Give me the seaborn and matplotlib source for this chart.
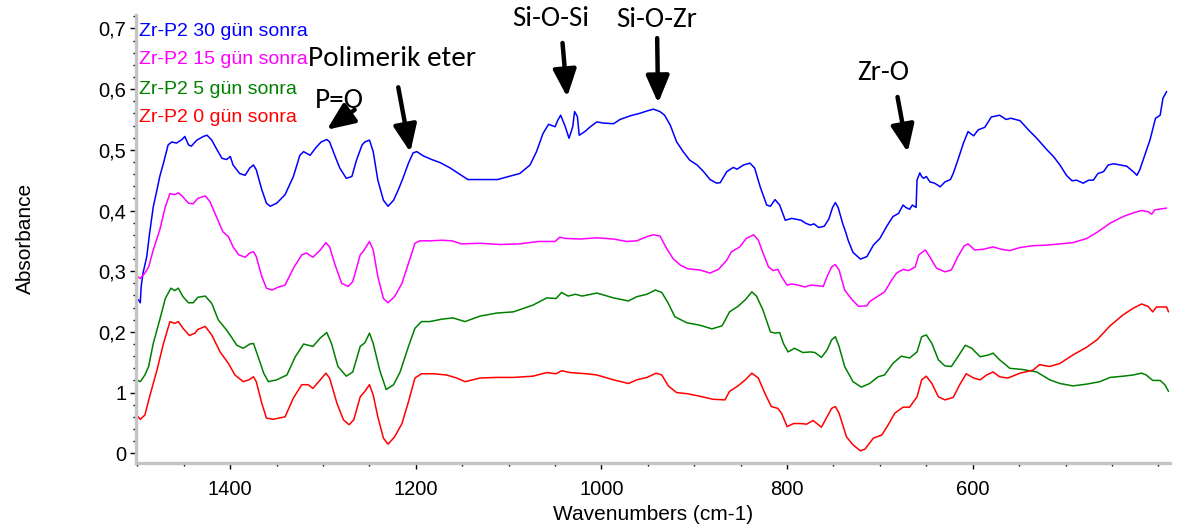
import matplotlib
matplotlib.use("Agg")
import matplotlib.pyplot as plt
from matplotlib import font_manager
from matplotlib.ticker import MultipleLocator, FixedLocator, FixedFormatter
import seaborn as sns
import pandas as pd

# ---------------- data ----------------
series_names = ["Zr-P2 30 gün sonra", "Zr-P2 15 gün sonra", "Zr-P2 5 gün sonra", "Zr-P2 0 gün sonra"]
series_colors = ["#0000ff", "#ff00ff", "#008000", "#ff0000"]

wn_30 = [1499, 1497, 1496, 1494, 1490, 1487, 1483, 1479, 1476, 1472, 1467, 1463, 1458, 1452, 1449, 1445, 1442,
         1436, 1429, 1425, 1420, 1415, 1409, 1404, 1400, 1397, 1390, 1384, 1379, 1375, 1372, 1366, 1361, 1357,
         1350, 1341, 1332, 1325, 1321, 1314, 1307, 1302, 1296, 1293, 1287, 1282, 1275, 1269, 1264, 1258, 1255,
         1250, 1246, 1241, 1235, 1230, 1224, 1219, 1214, 1208, 1203, 1199, 1192, 1183, 1174, 1163, 1153, 1144,
         1127, 1112, 1100, 1088, 1077, 1070, 1063, 1057, 1050, 1047, 1044, 1039, 1035, 1031, 1029, 1026, 1024,
         1018, 1012, 1005, 998, 987, 980, 969, 959, 951, 944, 937, 932, 926, 919, 912, 905, 897, 890, 883, 876,
         872, 865, 858, 854, 847, 840, 835, 829, 822, 818, 813, 808, 802, 795, 785, 780, 775, 771, 766, 760, 755,
         751, 748, 745, 740, 737, 734, 729, 721, 714, 707, 700, 693, 686, 680, 675, 672, 668, 665, 661, 660, 657,
         655, 653, 650, 646, 641, 635, 630, 624, 621, 616, 610, 605, 599, 594, 587, 580, 571, 564, 559, 549, 540,
         531, 520, 513, 506, 499, 493, 488, 481, 475, 470, 465, 459, 454, 448, 441, 434, 427, 423, 420, 414, 409,
         403, 398, 395, 391]
abs_30 = [0.253, 0.248, 0.275, 0.297, 0.324, 0.362, 0.406, 0.434, 0.456, 0.478, 0.508, 0.513, 0.511, 0.517, 0.522,
          0.508, 0.506, 0.516, 0.522, 0.524, 0.516, 0.502, 0.486, 0.484, 0.489, 0.475, 0.461, 0.458, 0.470, 0.475,
          0.467, 0.434, 0.412, 0.407, 0.412, 0.426, 0.456, 0.491, 0.497, 0.491, 0.505, 0.513, 0.517, 0.513, 0.489,
          0.470, 0.453, 0.456, 0.483, 0.508, 0.513, 0.516, 0.497, 0.450, 0.417, 0.407, 0.417, 0.434, 0.453, 0.478,
          0.495, 0.497, 0.490, 0.484, 0.479, 0.470, 0.460, 0.451, 0.451, 0.451, 0.456, 0.461, 0.475, 0.497, 0.527,
          0.542, 0.538, 0.549, 0.557, 0.538, 0.519, 0.538, 0.563, 0.555, 0.524, 0.530, 0.538, 0.546, 0.544, 0.543,
          0.550, 0.556, 0.560, 0.564, 0.567, 0.563, 0.557, 0.541, 0.513, 0.497, 0.483, 0.475, 0.464, 0.451, 0.445,
          0.446, 0.464, 0.471, 0.468, 0.475, 0.478, 0.470, 0.439, 0.409, 0.407, 0.418, 0.409, 0.384, 0.387, 0.384,
          0.379, 0.376, 0.378, 0.372, 0.374, 0.386, 0.405, 0.413, 0.405, 0.378, 0.365, 0.350, 0.331, 0.320, 0.324,
          0.343, 0.354, 0.373, 0.390, 0.395, 0.409, 0.405, 0.402, 0.409, 0.405, 0.450, 0.462, 0.456, 0.453, 0.456,
          0.447, 0.445, 0.439, 0.447, 0.451, 0.461, 0.483, 0.511, 0.530, 0.523, 0.533, 0.537, 0.554, 0.557, 0.550,
          0.552, 0.548, 0.533, 0.519, 0.500, 0.489, 0.475, 0.458, 0.449, 0.450, 0.445, 0.450, 0.450, 0.461, 0.464,
          0.475, 0.477, 0.475, 0.473, 0.464, 0.458, 0.467, 0.494, 0.516, 0.552, 0.557, 0.585, 0.596]

wn_15 = [1500, 1497, 1492, 1488, 1483, 1476, 1470, 1465, 1460, 1456, 1452, 1445, 1440, 1435, 1427, 1422, 1415,
         1408, 1402, 1397, 1391, 1384, 1379, 1375, 1372, 1366, 1361, 1355, 1348, 1341, 1332, 1323, 1318, 1311,
         1303, 1297, 1293, 1287, 1280, 1273, 1268, 1260, 1257, 1250, 1246, 1241, 1235, 1230, 1223, 1215, 1208,
         1201, 1196, 1185, 1172, 1161, 1151, 1131, 1109, 1088, 1068, 1050, 1045, 1039, 1023, 1005, 987, 973, 962,
         951, 944, 937, 930, 923, 915, 907, 894, 883, 874, 865, 860, 851, 844, 836, 831, 826, 820, 815, 810, 806,
         800, 795, 788, 781, 774, 766, 761, 757, 752, 748, 744, 738, 730, 723, 714, 711, 702, 695, 687, 682, 675,
         669, 662, 658, 651, 646, 639, 630, 623, 616, 609, 605, 598, 589, 578, 569, 560, 549, 535, 520, 506, 492,
         477, 466, 452, 438, 427, 418, 411, 407, 404, 391]
abs_15 = [0.291, 0.288, 0.297, 0.307, 0.335, 0.368, 0.406, 0.428, 0.426, 0.429, 0.424, 0.412, 0.411, 0.420, 0.424,
          0.415, 0.390, 0.365, 0.357, 0.340, 0.327, 0.323, 0.330, 0.332, 0.324, 0.291, 0.272, 0.269, 0.274, 0.277,
          0.305, 0.327, 0.330, 0.323, 0.335, 0.347, 0.340, 0.310, 0.280, 0.275, 0.283, 0.327, 0.332, 0.349, 0.335,
          0.291, 0.255, 0.248, 0.258, 0.280, 0.313, 0.346, 0.350, 0.350, 0.351, 0.350, 0.345, 0.346, 0.344, 0.345,
          0.349, 0.349, 0.356, 0.354, 0.353, 0.355, 0.353, 0.349, 0.350, 0.357, 0.360, 0.358, 0.338, 0.321, 0.310,
          0.304, 0.302, 0.297, 0.303, 0.318, 0.332, 0.340, 0.354, 0.360, 0.351, 0.330, 0.307, 0.301, 0.303, 0.291,
          0.277, 0.279, 0.277, 0.274, 0.277, 0.276, 0.275, 0.291, 0.307, 0.311, 0.302, 0.269, 0.253, 0.242, 0.243,
          0.250, 0.259, 0.266, 0.286, 0.297, 0.303, 0.301, 0.307, 0.327, 0.335, 0.323, 0.305, 0.299, 0.302, 0.324,
          0.342, 0.345, 0.335, 0.336, 0.340, 0.336, 0.334, 0.339, 0.342, 0.343, 0.345, 0.347, 0.354, 0.364, 0.379,
          0.390, 0.396, 0.400, 0.398, 0.394, 0.401, 0.404]

wn_5 = [1501, 1497, 1492, 1488, 1483, 1476, 1470, 1464, 1460, 1456, 1451, 1445, 1440, 1435, 1427, 1420, 1413,
        1404, 1399, 1393, 1386, 1379, 1375, 1370, 1364, 1359, 1350, 1339, 1330, 1321, 1311, 1303, 1296, 1291,
        1284, 1275, 1268, 1260, 1255, 1250, 1246, 1239, 1232, 1224, 1217, 1208, 1201, 1194, 1185, 1172, 1160,
        1147, 1131, 1113, 1095, 1074, 1059, 1049, 1043, 1036, 1028, 1021, 1005, 987, 971, 962, 951, 942, 935,
        928, 921, 908, 894, 881, 870, 862, 853, 845, 838, 833, 826, 818, 813, 808, 804, 799, 792, 783, 775, 770,
        763, 757, 752, 748, 744, 738, 729, 720, 711, 702, 695, 686, 677, 668, 660, 655, 650, 644, 637, 630, 623,
        616, 608, 601, 592, 583, 578, 571, 560, 546, 531, 517, 506, 492, 477, 463, 452, 438, 427, 418, 413, 406,
        398, 393, 389]
abs_5 = [0.121, 0.118, 0.129, 0.143, 0.181, 0.220, 0.255, 0.272, 0.268, 0.272, 0.258, 0.248, 0.248, 0.257, 0.259,
         0.247, 0.220, 0.203, 0.192, 0.178, 0.173, 0.180, 0.181, 0.159, 0.132, 0.118, 0.121, 0.129, 0.159, 0.180,
         0.176, 0.190, 0.199, 0.181, 0.143, 0.127, 0.134, 0.176, 0.182, 0.198, 0.181, 0.137, 0.105, 0.113, 0.134,
         0.176, 0.206, 0.217, 0.217, 0.221, 0.223, 0.217, 0.226, 0.231, 0.233, 0.244, 0.256, 0.255, 0.265, 0.259,
         0.262, 0.259, 0.264, 0.256, 0.251, 0.258, 0.262, 0.269, 0.265, 0.247, 0.225, 0.215, 0.211, 0.205, 0.210,
         0.233, 0.242, 0.253, 0.266, 0.259, 0.236, 0.200, 0.198, 0.199, 0.181, 0.167, 0.173, 0.166, 0.167, 0.166,
         0.158, 0.170, 0.187, 0.192, 0.176, 0.143, 0.118, 0.109, 0.115, 0.126, 0.129, 0.148, 0.160, 0.157, 0.167,
         0.192, 0.195, 0.181, 0.154, 0.144, 0.143, 0.159, 0.178, 0.173, 0.159, 0.162, 0.165, 0.154, 0.140, 0.138,
         0.134, 0.121, 0.115, 0.111, 0.114, 0.118, 0.125, 0.127, 0.129, 0.132, 0.129, 0.120, 0.120, 0.113, 0.102]

wn_0 = [1501, 1497, 1492, 1487, 1479, 1472, 1465, 1460, 1456, 1451, 1444, 1438, 1435, 1427, 1420, 1411, 1402,
        1395, 1386, 1380, 1375, 1372, 1366, 1361, 1354, 1341, 1332, 1323, 1316, 1311, 1303, 1297, 1293, 1285,
        1278, 1272, 1267, 1260, 1255, 1250, 1246, 1241, 1235, 1230, 1223, 1215, 1208, 1201, 1194, 1181, 1167,
        1156, 1147, 1131, 1113, 1095, 1074, 1059, 1049, 1043, 1034, 1016, 1005, 987, 971, 962, 951, 941, 935,
        928, 919, 907, 894, 880, 867, 862, 853, 845, 838, 831, 824, 817, 810, 806, 800, 793, 786, 779, 772, 763,
        757, 752, 748, 744, 736, 729, 721, 716, 707, 698, 691, 684, 675, 668, 660, 655, 650, 644, 637, 630, 621,
        614, 607, 599, 592, 585, 578, 571, 562, 549, 535, 528, 517, 506, 492, 477, 466, 452, 438, 427, 418, 411,
        406, 402, 391, 389]
abs_0 = [0.063, 0.056, 0.063, 0.093, 0.137, 0.181, 0.217, 0.214, 0.217, 0.206, 0.194, 0.198, 0.204, 0.209, 0.195,
         0.167, 0.148, 0.129, 0.118, 0.121, 0.126, 0.118, 0.082, 0.058, 0.056, 0.060, 0.091, 0.113, 0.113, 0.107,
         0.121, 0.132, 0.124, 0.082, 0.055, 0.047, 0.055, 0.093, 0.102, 0.113, 0.096, 0.060, 0.025, 0.015, 0.027,
         0.049, 0.085, 0.124, 0.131, 0.131, 0.129, 0.124, 0.118, 0.124, 0.125, 0.125, 0.127, 0.133, 0.131, 0.136,
         0.133, 0.131, 0.129, 0.121, 0.115, 0.121, 0.125, 0.132, 0.129, 0.111, 0.100, 0.098, 0.094, 0.089, 0.088,
         0.102, 0.111, 0.121, 0.132, 0.124, 0.099, 0.077, 0.074, 0.066, 0.044, 0.049, 0.049, 0.048, 0.054, 0.043,
         0.060, 0.074, 0.077, 0.066, 0.027, 0.014, 0.004, 0.007, 0.025, 0.030, 0.047, 0.066, 0.076, 0.076, 0.093,
         0.121, 0.127, 0.115, 0.093, 0.088, 0.092, 0.113, 0.131, 0.124, 0.121, 0.129, 0.134, 0.126, 0.124, 0.132,
         0.137, 0.146, 0.143, 0.148, 0.162, 0.175, 0.187, 0.210, 0.228, 0.239, 0.246, 0.242, 0.233, 0.241, 0.241,
         0.233]

x_ticks = [1400, 1200, 1000, 800, 600]
x_tick_labels = ["1400", "1200", "1000", "800", "600"]
y_ticks = [0.0, 0.1, 0.2, 0.3, 0.4, 0.5, 0.6, 0.7]
y_tick_labels = ["0", "1", "0,2", "0,3", "0,4", "0,5", "0,6", "0,7"]

ann_labels = ["P=O", "Polimerik eter", "Si-O-Si", "Si-O-Zr", "Zr-O"]
ann_text_pos = [(1282, 0.582), (1226, 0.651), (1055, 0.717), (941, 0.714), (696, 0.627)]
ann_tail = [(1266, 0.566), (1219, 0.603), (1042, 0.676), (940, 0.684), (681, 0.587)]
ann_head = [(1296, 0.533), (1206, 0.496), (1037, 0.587), (939, 0.577), (670, 0.496)]

# ---------------- fonts ----------------
installed = {f.name for f in font_manager.fontManager.ttflist}
if "Liberation Sans Narrow" in installed:
    narrow, tick_fs, leg_fs, lab_fs = "Liberation Sans Narrow", 16, 15.5, 16
else:
    narrow, tick_fs, leg_fs, lab_fs = "Liberation Sans", 14.5, 14, 15
if "Carlito" in installed:
    calib, ann_fs = "Carlito", 21
elif "Lato" in installed:
    calib, ann_fs = "Lato", 19
else:
    calib, ann_fs = "Open Sans", 18

sns.set_theme(style="white")
plt.rcParams["font.family"] = [narrow, "DejaVu Sans"]

# ---------------- data frame ----------------
frames = []
for name, w, a in zip(series_names, [wn_30, wn_15, wn_5, wn_0], [abs_30, abs_15, abs_5, abs_0]):
    frames.append(pd.DataFrame({"wn": w, "absorb": a, "series": name}))
df = pd.concat(frames, ignore_index=True)

W, H = 1177, 532
fig = plt.figure(figsize=(W / 100, H / 100), dpi=100)
fig.patch.set_facecolor("white")
ax = fig.add_axes([136 / W, 1 - 463.3 / H, (1170 - 136) / W, (463.3 - 15) / H])

sns.lineplot(data=df, x="wn", y="absorb", hue="series", hue_order=series_names,
             palette=dict(zip(series_names, series_colors)), estimator=None, sort=False,
             legend=False, linewidth=1.1, ax=ax)

ax.set_xlim(1501.6, 387.4)
ax.set_ylim(-0.0165, 0.7221)

ax.xaxis.set_major_locator(FixedLocator(x_ticks))
ax.xaxis.set_major_formatter(FixedFormatter(x_tick_labels))
ax.xaxis.set_minor_locator(MultipleLocator(50))
ax.yaxis.set_major_locator(FixedLocator(y_ticks))
ax.yaxis.set_major_formatter(FixedFormatter(y_tick_labels))
ax.yaxis.set_minor_locator(MultipleLocator(0.02))

ax.tick_params(axis="both", which="major", direction="out", length=4, width=1.0, color="black",
               labelsize=tick_fs, labelcolor="black", pad=3)
ax.tick_params(axis="both", which="minor", direction="out", length=2, width=1.0, color="black")
ax.tick_params(axis="x", which="major", pad=8)
ax.tick_params(left=True, bottom=True, which="both")

for s in ["top", "right"]:
    ax.spines[s].set_visible(False)
for s in ["left", "bottom"]:
    ax.spines[s].set_color("#c4c4c4")
    ax.spines[s].set_linewidth(2.4)

ax.set_xlabel("Wavenumbers (cm-1)", fontsize=lab_fs, color="black")
ax.set_ylabel("Absorbance", fontsize=lab_fs, color="black")
ax.xaxis.label.set_va("center")
ax.yaxis.label.set_va("center")
ax.xaxis.set_label_coords((653 - 136) / 1034, (463.3 - 514) / 448.3)
ax.yaxis.set_label_coords((25 - 136) / 1034, (463.3 - 238) / 448.3)

# legend as coloured text
legend_y = [31, 60, 89, 117]
for name, col, yy in zip(series_names, series_colors, legend_y):
    fig.text(139 / W, 1 - yy / H, name, color=col, fontsize=leg_fs, ha="left", va="center")

# annotations
for lab, tp, tail, head in zip(ann_labels, ann_text_pos, ann_tail, ann_head):
    ax.text(tp[0], tp[1], lab, family=[calib, "DejaVu Sans"], fontsize=ann_fs, color="black",
            ha="center", va="center")
    ax.annotate("", xy=head, xytext=tail,
                arrowprops=dict(arrowstyle="-|>,head_length=0.75,head_width=0.32", lw=3.2,
                                color="black", mutation_scale=22, shrinkA=0, shrinkB=0))

fig.savefig("out.png", dpi=100, facecolor="white")
